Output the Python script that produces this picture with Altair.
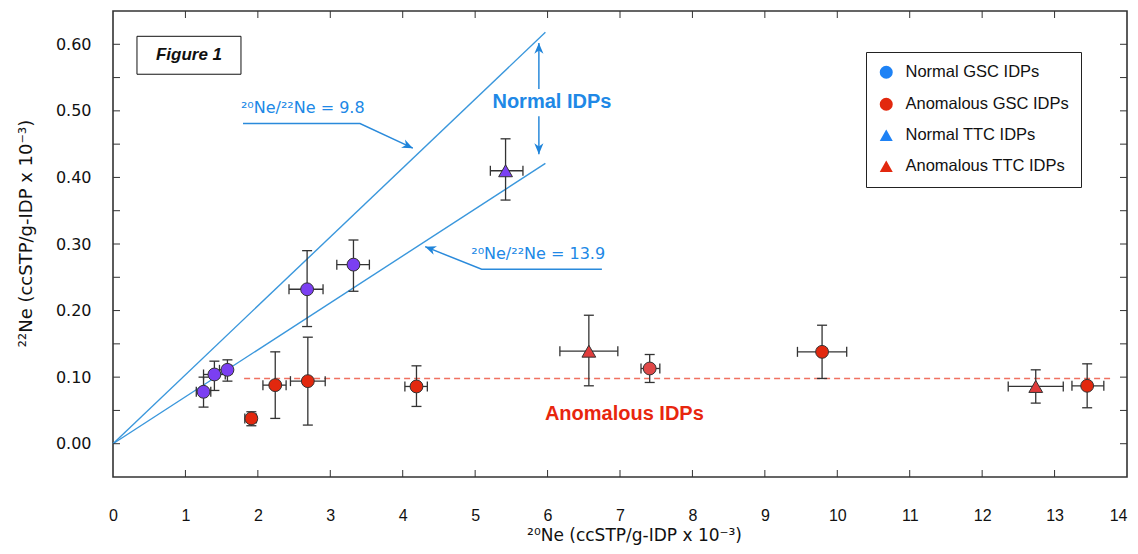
import altair as alt
import pandas as pd

# ---------------- data ----------------
series = (["Normal GSC IDPs"] * 5 + ["Normal TTC IDPs"] +
          ["Anomalous GSC IDPs"] * 7 + ["Anomalous TTC IDPs"] * 2)
marker = ["circle"] * 5 + ["triangle-up"] + ["circle"] * 7 + ["triangle-up"] * 2
ne20 = [1.25, 1.40, 1.58, 2.68, 3.32, 5.42, 1.91, 2.24, 2.69, 4.19, 7.41, 9.79, 13.45, 6.57, 12.74]
ne22 = [0.078, 0.104, 0.111, 0.232, 0.269, 0.410, 0.038, 0.088, 0.094, 0.086, 0.113, 0.138, 0.087, 0.139, 0.086]
ne20_lo = [1.15, 1.25, 1.47, 2.43, 3.09, 5.21, 1.82, 2.07, 2.45, 4.03, 7.29, 9.45, 13.24, 6.17, 12.36]
ne20_hi = [1.35, 1.55, 1.64, 2.90, 3.54, 5.66, 1.98, 2.39, 2.93, 4.34, 7.55, 10.13, 13.68, 6.97, 13.12]
ne22_lo = [0.055, 0.080, 0.094, 0.176, 0.229, 0.366, 0.027, 0.038, 0.028, 0.056, 0.092, 0.098, 0.054, 0.087, 0.061]
ne22_hi = [0.100, 0.124, 0.126, 0.290, 0.306, 0.458, 0.048, 0.138, 0.160, 0.117, 0.134, 0.178, 0.120, 0.193, 0.111]
point_fill = ["#7B3FF2"] * 6 + ["#E2280E", "#E2280E", "#E2280E", "#E2280E", "#E04848", "#E2280E", "#E2280E",
                                "#E03C3C", "#E03C3C"]

legend_names = ["Normal GSC IDPs", "Anomalous GSC IDPs", "Normal TTC IDPs", "Anomalous TTC IDPs"]
legend_colors = ["#1E82F5", "#E2280E", "#1E82F5", "#E2280E"]
legend_shapes = ["circle", "circle", "triangle-up", "triangle-up"]

# reference ratio lines 20Ne/22Ne = 9.8 and 13.9 (end points)
ratio_name = ["9.8", "9.8", "13.9", "13.9"]
ratio_x = [0.0, 5.97, 0.0, 5.97]
ratio_y = [0.0, 0.618, 0.0, 0.421]

# horizontal anomalous level
anom_x = [1.81, 13.79]
anom_y = [0.098, 0.098]

# annotation arrows (polylines)
arrow_id = ["a", "a", "a", "b", "b", "b", "c", "c", "d", "d"]
arrow_x = [1.795, 3.41, 4.14, 6.75, 5.09, 4.31, 5.88, 5.88, 5.88, 5.88]
arrow_y = [0.481, 0.481, 0.444, 0.262, 0.262, 0.296, 0.602, 0.533, 0.492, 0.435]
head_x = [4.14, 4.31, 5.88, 5.88]
head_y = [0.444, 0.296, 0.602, 0.435]
head_angle = [25, 201, 270, 90]

# texts
label_text = ["²⁰Ne/²²Ne = 9.8", "²⁰Ne/²²Ne = 13.9"]
label_x = [2.62, 5.87]
label_y = [0.504, 0.285]

fig_box_x = [0.331]
fig_box_x2 = [1.767]
fig_box_y = [0.612]
fig_box_y2 = [0.555]

x_ticks = [1, 2, 3, 4, 5, 6, 7, 8, 9, 10, 11, 12, 13]
y_ticks = [0.0, 0.05, 0.10, 0.15, 0.20, 0.25, 0.30, 0.35, 0.40, 0.45, 0.50, 0.55, 0.60]
y_labels = [0.0, 0.1, 0.2, 0.3, 0.4, 0.5, 0.6]

W, H = 1014, 466
FONT = "Liberation Sans"
SUPFONT = "DejaVu Sans"
BLUE_LINE = "#3A97DC"
BLUE_TXT = "#2088E6"
RED_TXT = "#E8260E"

df = pd.DataFrame(dict(series=series, marker=marker, ne20=ne20, ne22=ne22,
                       ne20_lo=ne20_lo, ne20_hi=ne20_hi, ne22_lo=ne22_lo, ne22_hi=ne22_hi,
                       fill=point_fill))

xs = alt.Scale(domain=[0, 14], nice=False, zero=False)
ys = alt.Scale(domain=[-0.05, 0.65], nice=False, zero=False)

X = lambda f: alt.X(f, type="quantitative", scale=xs,
                    axis=alt.Axis(title="²⁰Ne (ccSTP/g-IDP x 10⁻³)", values=list(range(0, 15)),
                                  format="d", ticks=False, tickSize=0, domain=False, grid=False,
                                  labelPadding=30, labelFontSize=16, labelFont=FONT, labelColor="#111",
                                  labelAlign=alt.expr("datum.value == 14 ? 'right' : 'center'"),
                                  titleFontSize=17, titleFont=SUPFONT, titleFontWeight="normal",
                                  titlePadding=4, titleColor="#111", titleX=521, labelFlush=False))
Y = lambda f: alt.Y(f, type="quantitative", scale=ys,
                    axis=alt.Axis(title="²²Ne (ccSTP/g-IDP x 10⁻³)", values=y_labels, format=".2f",
                                  ticks=False, tickSize=0, domain=False, grid=False,
                                  labelPadding=22, labelFontSize=16, labelFont=SUPFONT, labelColor="#111",
                                  titleFontSize=18, titleFont=SUPFONT, titleFontWeight="normal",
                                  titlePadding=20, titleColor="#111", titleY=222, labelFlush=False))

base = alt.Chart(df)

ratio_df = pd.DataFrame(dict(name=ratio_name, x=ratio_x, y=ratio_y))
ratio_lines = alt.Chart(ratio_df).mark_line(color=BLUE_LINE, strokeWidth=1.4).encode(
    x=X("x"), y=Y("y"), detail="name:N")

anom_df = pd.DataFrame(dict(x=anom_x, y=anom_y))
anom_line = alt.Chart(anom_df).mark_line(color="#F07262", strokeWidth=1.5, strokeDash=[6, 4]).encode(
    x=X("x"), y=Y("y"))

arr_df = pd.DataFrame(dict(id=arrow_id, x=arrow_x, y=arrow_y, o=list(range(len(arrow_x)))))
arrows = alt.Chart(arr_df).mark_line(color="#2A8ADB", strokeWidth=1.5).encode(
    x=X("x"), y=Y("y"), detail="id:N", order="o:Q")

head_df = pd.DataFrame(dict(x=head_x, y=head_y, a=head_angle))
heads = alt.Chart(head_df).mark_point(
    shape="M0,0L-1,-0.42L-0.7,0L-1,0.42Z", filled=True, color="#1F84DA", size=470, opacity=1).encode(
    x=X("x"), y=Y("y"), angle=alt.Angle("a:Q", scale=None))

ERR = "#333333"
xerr = base.mark_rule(color=ERR, strokeWidth=1.3).encode(x=X("ne20_lo"), x2="ne20_hi", y=Y("ne22"))
yerr = base.mark_rule(color=ERR, strokeWidth=1.3).encode(x=X("ne20"), y=Y("ne22_lo"), y2="ne22_hi")
cap_opts = dict(color=ERR, thickness=1.3, size=10, opacity=1)
cap_xl = base.mark_tick(orient="vertical", **cap_opts).encode(x=X("ne20_lo"), y=Y("ne22"))
cap_xh = base.mark_tick(orient="vertical", **cap_opts).encode(x=X("ne20_hi"), y=Y("ne22"))
cap_yl = base.mark_tick(orient="horizontal", **cap_opts).encode(x=X("ne20"), y=Y("ne22_lo"))
cap_yh = base.mark_tick(orient="horizontal", **cap_opts).encode(x=X("ne20"), y=Y("ne22_hi"))

circles = base.transform_filter(alt.datum.marker == "circle").mark_point(
    shape="circle", filled=True, size=165, stroke="#333333", strokeWidth=1, opacity=1).encode(
    x=X("ne20"), y=Y("ne22"), fill=alt.Fill("fill:N", scale=None))
triangles = base.transform_filter(alt.datum.marker == "triangle-up").mark_point(
    shape="triangle-up", filled=True, size=190, stroke="#333333", strokeWidth=1, opacity=1).encode(
    x=X("ne20"), y=Y("ne22"), fill=alt.Fill("fill:N", scale=None))

# legend from the explicit scale domain (layer carries no visible marks)
legend_layer = base.transform_filter("false").mark_point(
    filled=True, stroke="#333333", strokeWidth=1, opacity=1).encode(
    x=X("ne20"), y=Y("ne22"),
    color=alt.Color("series:N", scale=alt.Scale(domain=legend_names, range=legend_colors), title=None),
    shape=alt.Shape("series:N", scale=alt.Scale(domain=legend_names, range=legend_shapes), title=None))

# tick marks pointing inward on all four sides
xt_df = pd.DataFrame(dict(v=x_ticks))
yt_df = pd.DataFrame(dict(v=y_ticks))
TK = "#333333"
tick_bottom = alt.Chart(xt_df).mark_rule(color=TK, strokeWidth=1).encode(
    x=X("v"), y=alt.value(H), y2=alt.value(H - 7))
tick_top = alt.Chart(xt_df).mark_rule(color=TK, strokeWidth=1).encode(
    x=X("v"), y=alt.value(0), y2=alt.value(7))
tick_left = alt.Chart(yt_df).mark_rule(color=TK, strokeWidth=1).encode(
    y=Y("v"), x=alt.value(0), x2=alt.value(7))
tick_right = alt.Chart(yt_df).mark_rule(color=TK, strokeWidth=1).encode(
    y=Y("v"), x=alt.value(W), x2=alt.value(W - 7))

# Figure 1 box
box_df = pd.DataFrame(dict(x=fig_box_x, x2=fig_box_x2, y=fig_box_y, y2=fig_box_y2, t=["Figure 1"]))
fig_box = alt.Chart(box_df).mark_rect(fill="white", stroke="#111", strokeWidth=1).encode(
    x=X("x"), x2="x2", y=Y("y"), y2="y2")
fig_text = alt.Chart(box_df).mark_text(font=FONT, fontSize=17, fontWeight="bold", fontStyle="italic",
                                       color="#111").encode(
    x=alt.X("mid:Q", scale=xs), y=alt.Y("midy:Q", scale=ys), text="t:N").transform_calculate(
    mid="(datum.x + datum.x2) / 2", midy="(datum.y + datum.y2) / 2")

lab_df = pd.DataFrame(dict(t=label_text, x=label_x, y=label_y))
ratio_labels = alt.Chart(lab_df).mark_text(font=SUPFONT, fontSize=16, color=BLUE_TXT).encode(
    x=X("x"), y=Y("y"), text="t:N")

big_df = pd.DataFrame(dict(t=["Normal IDPs", "Anomalous IDPs"], x=[6.06, 7.06], y=[0.513, 0.0446],
                           c=[BLUE_TXT, RED_TXT]))
big_labels = alt.Chart(big_df).mark_text(font=FONT, fontSize=20, fontWeight="bold").encode(
    x=X("x"), y=Y("y"), text="t:N", color=alt.Color("c:N", scale=None))

chart = alt.layer(
    ratio_lines, anom_line, arrows, heads,
    xerr, yerr, cap_xl, cap_xh, cap_yl, cap_yh,
    circles, triangles, legend_layer,
    tick_bottom, tick_top, tick_left, tick_right,
    fig_box, fig_text, ratio_labels, big_labels,
).properties(
    width=W, height=H,
    autosize=alt.AutoSizeParams(type="none"),
    padding={"left": 105, "top": 3, "right": 3, "bottom": 69},
    background="white",
).configure_view(
    stroke="#333333", strokeWidth=1.6
).configure_legend(
    orient="none", legendX=753, legendY=41,
    strokeColor="#222", strokeWidth=1, fillColor="white", padding=12,
    labelFont=FONT, labelFontSize=16.5, labelColor="#111", labelOffset=11, labelLimit=400,
    symbolSize=170, symbolStrokeColor="#333333", symbolStrokeWidth=1, symbolOpacity=1,
    rowPadding=14, titlePadding=0
)

chart.save("out.html", embed_options={"renderer": "svg", "actions": False})
